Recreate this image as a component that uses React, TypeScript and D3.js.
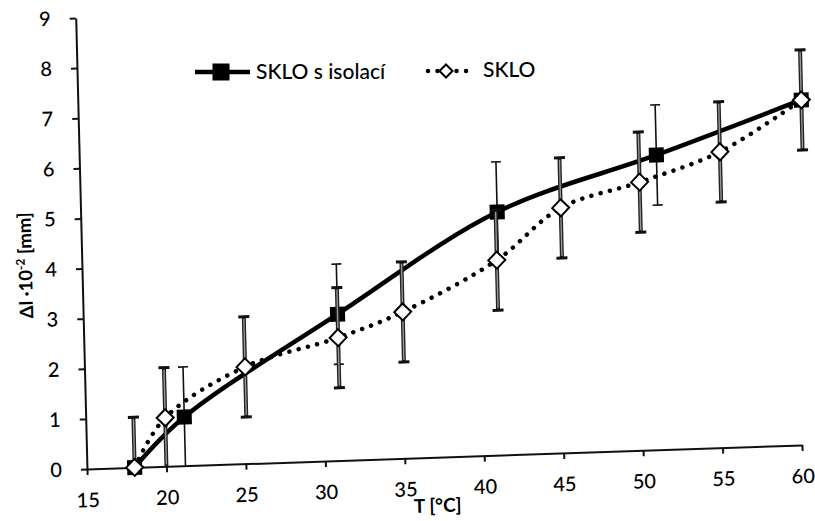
import React, { useEffect, useRef } from 'react';
import * as d3 from 'd3';

// ---- data ----
const seriesNames = ['SKLO s isolací', 'SKLO'];
const isolX = [18, 21.2, 31, 41.2, 51.3, 60.5];
const isolY = [0, 0.97, 2.92, 4.85, 5.88, 6.88];
const isolErr = [1, 1, 1, 1, 1, 1];
const skloX = [18, 20, 25.1, 31, 35.1, 41.1, 45.2, 50.2, 55.3, 60.5];
const skloY = [0, 0.97, 1.93, 2.45, 2.92, 3.89, 4.89, 5.35, 5.9, 6.88];
const skloErr = [1, 1, 1, 1, 1, 1, 1, 1, 1, 1];
const xTicks = [15, 20, 25, 30, 35, 40, 45, 50, 55, 60];
const yTicks = [0, 1, 2, 3, 4, 5, 6, 7, 8, 9];
const xTitle = 'T [°C]';
const yTitleMain = 'Δl ·10';
const yTitleSup = '-2';
const yTitleUnit = ' [mm]';

const W = 715;
const H = 451;
const FONT = 'Lato, "Open Sans", sans-serif';

export default function App() {
  const ref = useRef<SVGSVGElement>(null);

  useEffect(() => {
    const svg = d3.select(ref.current);
    svg.selectAll('*').remove();

    const x = d3.scaleLinear().domain([15, 60]).range([0, W]);
    const y = d3.scaleLinear().domain([0, 9]).range([H, 0]);

    // scanned page is slightly skewed: whole plot drawn in a tilted frame
    const g = svg.append('g').attr('transform', 'matrix(1,-0.0336,0.025,1,75.7,18)');

    // axes
    const xa = g
      .append('g')
      .attr('transform', `translate(0,${H})`)
      .call(d3.axisBottom(x).tickValues(xTicks).tickSize(6).tickSizeOuter(0).tickPadding(18).tickFormat(d3.format('d')));
    const ya = g
      .append('g')
      .call(d3.axisLeft(y).tickValues(yTicks).tickSize(6).tickSizeOuter(0).tickPadding(19).tickFormat(d3.format('d')));
    [xa, ya].forEach((a) => {
      a.select('.domain').attr('stroke', '#111').attr('stroke-width', 2);
      a.selectAll('.tick line').attr('stroke', '#111').attr('stroke-width', 2);
      a.selectAll('.tick text')
        .attr('font-family', FONT)
        .attr('font-size', 20)
        .attr('font-weight', 500)
        .attr('fill', '#000');
    });

    // axis titles
    g.append('text')
      .attr('x', x(37))
      .attr('y', H + 55)
      .attr('text-anchor', 'middle')
      .attr('font-family', FONT)
      .attr('font-size', 19)
      .attr('font-weight', 700)
      .attr('fill', '#000')
      .text(xTitle);

    const yt = g
      .append('text')
      .attr('transform', `translate(-50,${y(4.1)}) rotate(-90)`)
      .attr('text-anchor', 'middle')
      .attr('font-family', FONT)
      .attr('font-size', 18.5)
      .attr('font-weight', 700)
      .attr('fill', '#000');
    yt.append('tspan').text(yTitleMain);
    yt.append('tspan').attr('dy', -7).attr('font-size', 12).text(yTitleSup);
    yt.append('tspan').attr('dy', 7).text(yTitleUnit);

    const sq = d3.symbol().type(d3.symbolSquare).size(15 * 15);
    const diamondPath = (r: number) => `M0,${-r}L${r},0L0,${r}L${-r},0Z`;

    const drawSeries = (
      xs: number[],
      ys: number[],
      errs: number[],
      kind: 'isol' | 'sklo'
    ) => {
      const pts = xs.map((v, i) => [v, ys[i], errs[i]] as [number, number, number]);
      const line = d3
        .line<[number, number, number]>()
        .x((d) => x(d[0]))
        .y((d) => y(d[1]))
        .curve(d3.curveCatmullRom.alpha(0.5));
      const sg = g.append('g');
      const path = sg
        .append('path')
        .attr('d', line(pts))
        .attr('fill', 'none')
        .attr('stroke', '#000')
        .attr('stroke-width', 4.5)
        .attr('stroke-linecap', 'round');
      if (kind === 'sklo') path.attr('stroke-dasharray', '0.01 9.5');

      // error bars
      const eb = sg.append('g');
      pts.forEach((d) => {
        const cx = x(d[0]);
        const top = y(d[1] + d[2]);
        const bot = y(Math.max(0, d[1] - d[2]));
        if (kind === 'isol') {
          eb.append('line').attr('x1', cx).attr('x2', cx).attr('y1', top).attr('y2', bot).attr('stroke', '#111').attr('stroke-width', 1.6);
          [top, d[1] - d[2] >= 0 ? bot : null].forEach((yy) => {
            if (yy === null) return;
            eb.append('line').attr('x1', cx - 5).attr('x2', cx + 5).attr('y1', yy).attr('y2', yy).attr('stroke', '#111').attr('stroke-width', 1.6);
          });
        } else {
          eb.append('line').attr('x1', cx).attr('x2', cx).attr('y1', top).attr('y2', bot).attr('stroke', '#222').attr('stroke-width', 4);
          eb.append('line').attr('x1', cx).attr('x2', cx).attr('y1', top + 2).attr('y2', bot - 2).attr('stroke', '#9a9a9a').attr('stroke-width', 1.3);
          [top, d[1] - d[2] >= 0 ? bot : null].forEach((yy) => {
            if (yy === null) return;
            eb.append('line').attr('x1', cx - 5.5).attr('x2', cx + 5.5).attr('y1', yy).attr('y2', yy).attr('stroke', '#111').attr('stroke-width', 3);
          });
        }
      });

      // markers
      pts.forEach((d) => {
        if (kind === 'isol') {
          sg.append('path').attr('d', sq()).attr('transform', `translate(${x(d[0])},${y(d[1])})`).attr('fill', '#000');
        } else {
          sg.append('path')
            .attr('d', diamondPath(8.5))
            .attr('transform', `translate(${x(d[0])},${y(d[1])})`)
            .attr('fill', '#fff')
            .attr('stroke', '#000')
            .attr('stroke-width', 2);
        }
      });
    };

    drawSeries(isolX, isolY, isolErr, 'isol');
    drawSeries(skloX, skloY, skloErr, 'sklo');

    // legend (screen coords)
    const lg = svg.append('g');
    lg.append('line').attr('x1', 195).attr('x2', 250).attr('y1', 72).attr('y2', 72).attr('stroke', '#000').attr('stroke-width', 4.5);
    lg.append('rect').attr('x', 221 - 8.5).attr('y', 72 - 8.5).attr('width', 17).attr('height', 17).attr('fill', '#000');
    lg.append('text')
      .attr('x', 256)
      .attr('y', 78.5)
      .attr('font-family', FONT)
      .attr('font-size', 21)
      .attr('font-weight', 500)
      .attr('fill', '#000')
      .text(seriesNames[0]);

    lg.append('line')
      .attr('x1', 428)
      .attr('x2', 469)
      .attr('y1', 71)
      .attr('y2', 71)
      .attr('stroke', '#000')
      .attr('stroke-width', 4.5)
      .attr('stroke-linecap', 'round')
      .attr('stroke-dasharray', '0.01 9.5');
    lg.append('path')
      .attr('d', diamondPath(6.5))
      .attr('transform', 'translate(446,71)')
      .attr('fill', '#fff')
      .attr('stroke', '#000')
      .attr('stroke-width', 2);
    lg.append('text')
      .attr('x', 483)
      .attr('y', 77)
      .attr('font-family', FONT)
      .attr('font-size', 21)
      .attr('font-weight', 500)
      .attr('fill', '#000')
      .text(seriesNames[1]);
  }, []);

  return (
    <svg
      ref={ref}
      width={815}
      height={521}
      style={{ position: 'absolute', left: 0, top: 0, background: '#fff' }}
    />
  );
}
